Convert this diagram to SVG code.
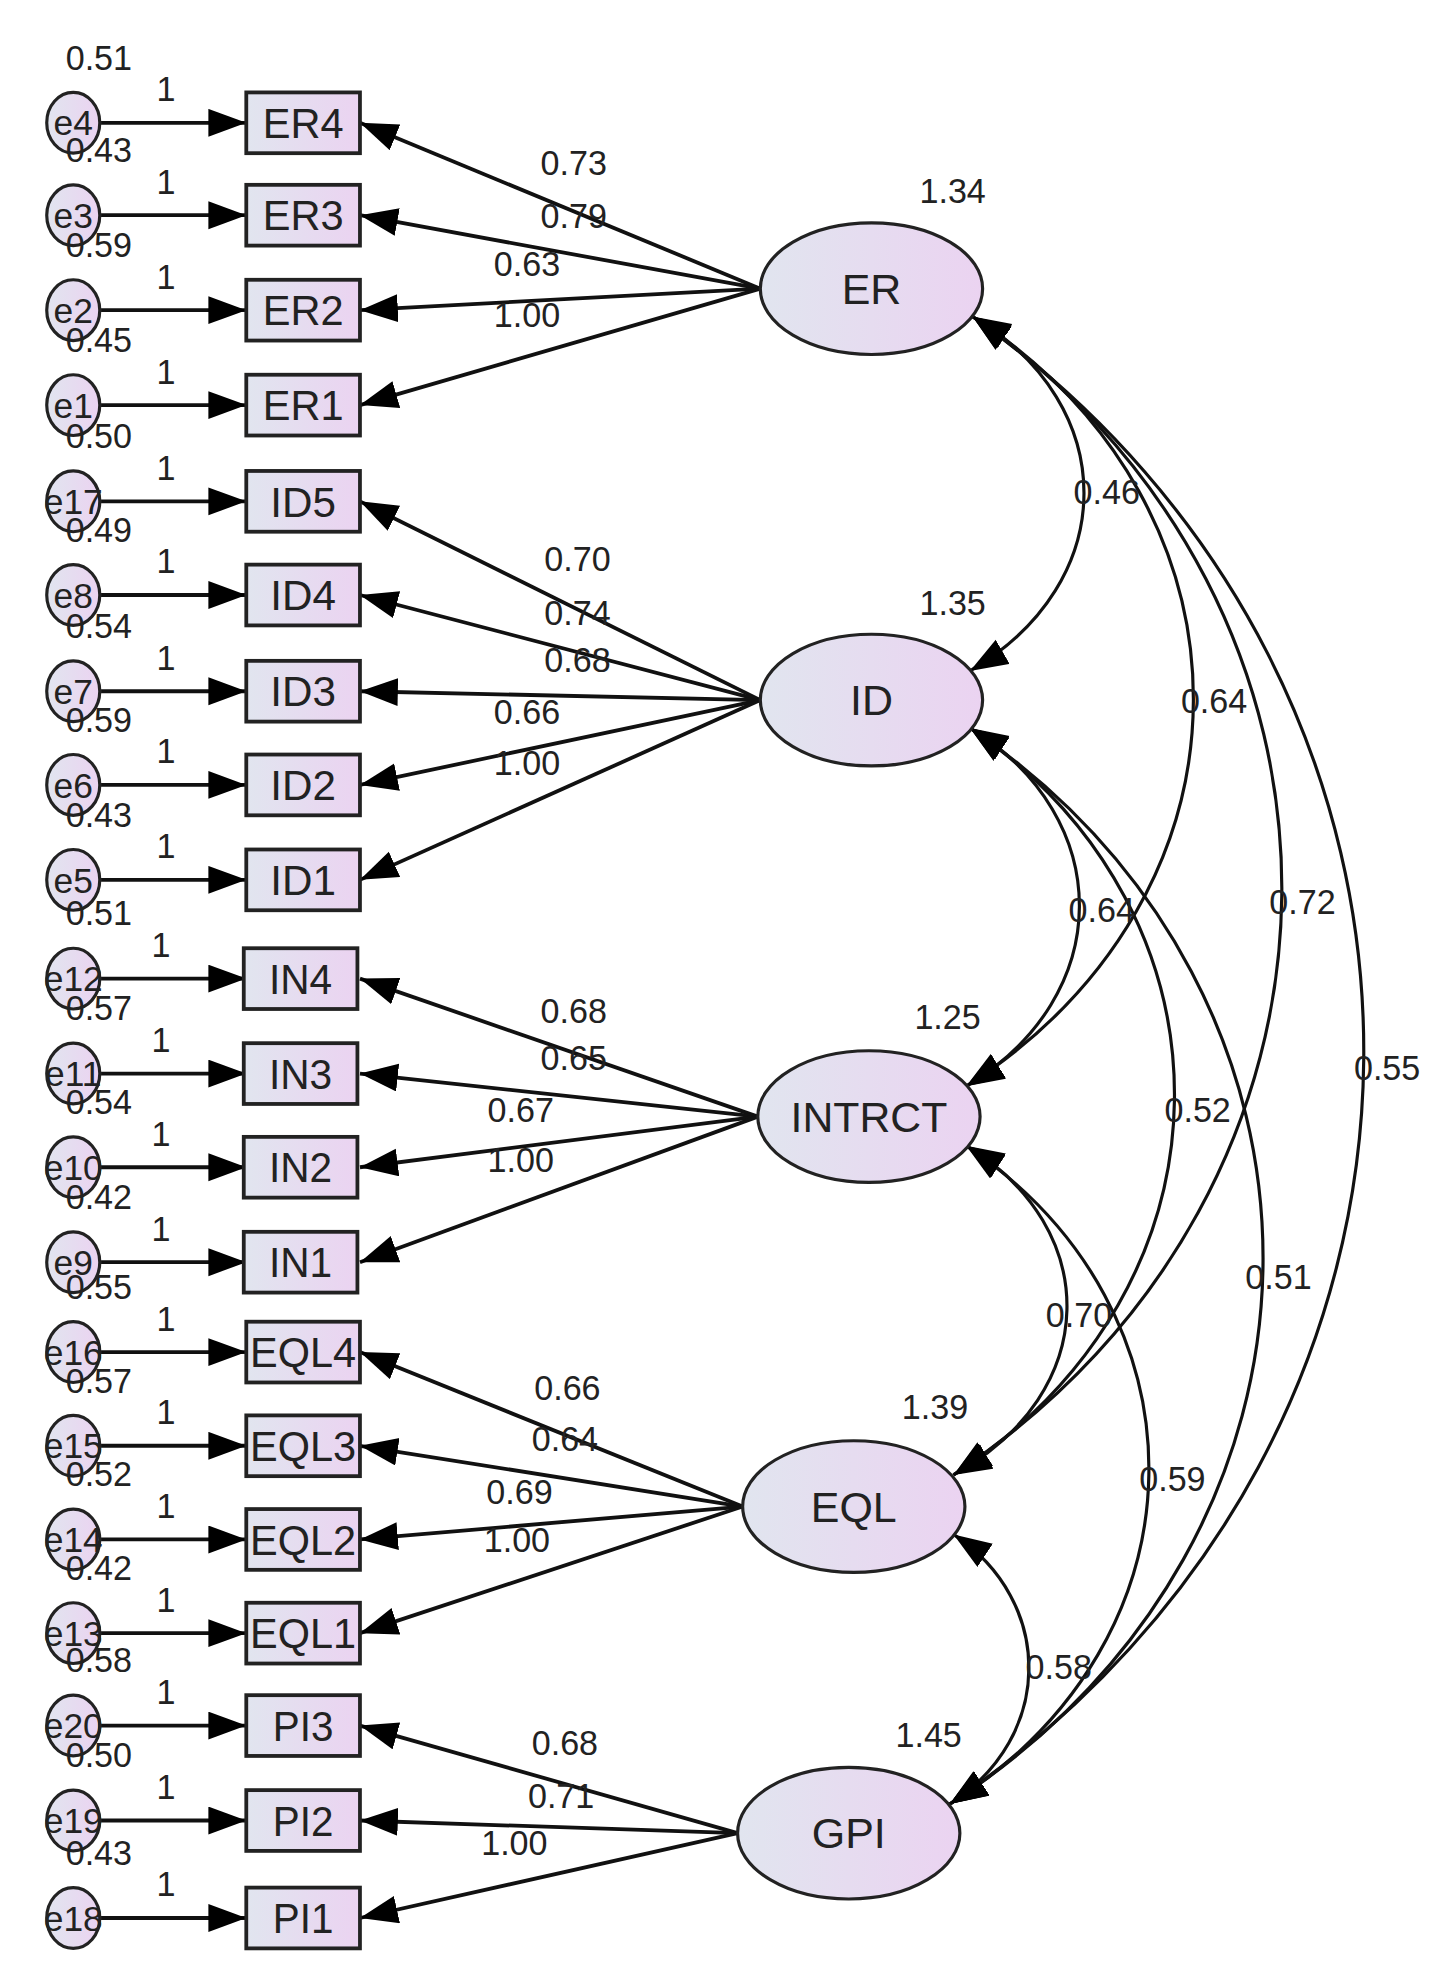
<svg xmlns="http://www.w3.org/2000/svg" width="1452" height="1980" viewBox="0 0 1452 1980">
<style>
.t{font-family:"Liberation Sans",Arial,sans-serif;fill:#222}
.n{font-size:27px}
.b{font-size:34px;text-anchor:middle}
.e{font-size:28px;text-anchor:middle}
.ln{stroke:#111;stroke-width:3;fill:none}
.cv{stroke:#111;stroke-width:2.5;fill:none;marker-start:url(#ah);marker-end:url(#ah)}
.box{fill:url(#g);stroke:#222;stroke-width:3}
.ell{fill:url(#g);stroke:#222;stroke-width:2.5}
</style>
<defs>
<linearGradient id="g" x1="0" y1="0" x2="1" y2="0"><stop offset="0" stop-color="#e1e5ef"/><stop offset="1" stop-color="#ebd3f1"/></linearGradient>
<marker id="ah" markerUnits="userSpaceOnUse" markerWidth="32" markerHeight="24" refX="30" refY="11" orient="auto-start-reverse"><path d="M0,0 L30,11 L0,22 z" fill="#000"/></marker>
</defs>
<rect width="1452" height="1980" fill="#fff"/>
<g transform="scale(1.263,1.266)">
<g id="connectors">
<g class="ln" marker-end="url(#ah)">
<line x1="80" y1="97" x2="195" y2="97"/><line x1="80" y1="170" x2="195" y2="170"/><line x1="80" y1="245" x2="195" y2="245"/><line x1="80" y1="320" x2="195" y2="320"/>
<line x1="80" y1="396" x2="195" y2="396"/><line x1="80" y1="470" x2="195" y2="470"/><line x1="80" y1="546" x2="195" y2="546"/><line x1="80" y1="620" x2="195" y2="620"/><line x1="80" y1="695" x2="195" y2="695"/>
<line x1="80" y1="773" x2="195" y2="773"/><line x1="80" y1="848" x2="195" y2="848"/><line x1="80" y1="922" x2="195" y2="922"/><line x1="80" y1="997" x2="195" y2="997"/>
<line x1="80" y1="1068" x2="195" y2="1068"/><line x1="80" y1="1142" x2="195" y2="1142"/><line x1="80" y1="1216" x2="195" y2="1216"/><line x1="80" y1="1290" x2="195" y2="1290"/>
<line x1="80" y1="1363" x2="195" y2="1363"/><line x1="80" y1="1438" x2="195" y2="1438"/><line x1="80" y1="1515" x2="195" y2="1515"/>
<line x1="602" y1="228" x2="285" y2="97"/><line x1="602" y1="228" x2="285" y2="170"/><line x1="602" y1="228" x2="285" y2="245"/><line x1="602" y1="228" x2="285" y2="320"/>
<line x1="602" y1="553" x2="285" y2="396"/><line x1="602" y1="553" x2="285" y2="470"/><line x1="602" y1="553" x2="285" y2="546"/><line x1="602" y1="553" x2="285" y2="620"/><line x1="602" y1="553" x2="285" y2="695"/>
<line x1="600" y1="882" x2="285" y2="773"/><line x1="600" y1="882" x2="285" y2="848"/><line x1="600" y1="882" x2="285" y2="922"/><line x1="600" y1="882" x2="285" y2="997"/>
<line x1="588" y1="1190" x2="285" y2="1068"/><line x1="588" y1="1190" x2="285" y2="1142"/><line x1="588" y1="1190" x2="285" y2="1216"/><line x1="588" y1="1190" x2="285" y2="1290"/>
<line x1="584" y1="1448" x2="285" y2="1363"/><line x1="584" y1="1448" x2="285" y2="1438"/><line x1="584" y1="1448" x2="285" y2="1515"/>
</g>
<path class="cv" d="M770,250 C888,320 888,460 768,530"/>
<path class="cv" d="M770,250 C1004,402 1004,706 765,858"/>
<path class="cv" d="M770,250 C1099,479 1099,936 755,1165"/>
<path class="cv" d="M770,250 C1186,544 1186,1131 752,1425"/>
<path class="cv" d="M768,575 C884,646 884,787 765,858"/>
<path class="cv" d="M768,575 C986,722 986,1017 755,1165"/>
<path class="cv" d="M768,575 C1080,787 1080,1212 752,1425"/>
<path class="cv" d="M765,905 C873,970 873,1100 755,1165"/>
<path class="cv" d="M765,905 C960,1035 960,1295 752,1425"/>
<path class="cv" d="M755,1212 C835,1265 835,1372 752,1425"/>
</g>
<g id="errors">
<g class="ell"><ellipse cx="58" cy="97" rx="21" ry="24"/><ellipse cx="58" cy="170" rx="21" ry="24"/><ellipse cx="58" cy="245" rx="21" ry="24"/><ellipse cx="58" cy="320" rx="21" ry="24"/><ellipse cx="58" cy="396" rx="21" ry="24"/><ellipse cx="58" cy="470" rx="21" ry="24"/><ellipse cx="58" cy="546" rx="21" ry="24"/><ellipse cx="58" cy="620" rx="21" ry="24"/><ellipse cx="58" cy="695" rx="21" ry="24"/><ellipse cx="58" cy="773" rx="21" ry="24"/><ellipse cx="58" cy="848" rx="21" ry="24"/><ellipse cx="58" cy="922" rx="21" ry="24"/><ellipse cx="58" cy="997" rx="21" ry="24"/><ellipse cx="58" cy="1068" rx="21" ry="24"/><ellipse cx="58" cy="1142" rx="21" ry="24"/><ellipse cx="58" cy="1216" rx="21" ry="24"/><ellipse cx="58" cy="1290" rx="21" ry="24"/><ellipse cx="58" cy="1363" rx="21" ry="24"/><ellipse cx="58" cy="1438" rx="21" ry="24"/><ellipse cx="58" cy="1515" rx="21" ry="24"/></g>
<g class="t e">
<text x="58" y="107">e4</text><text x="58" y="180">e3</text><text x="58" y="255">e2</text><text x="58" y="330">e1</text><text x="58" y="406">e17</text><text x="58" y="480">e8</text><text x="58" y="556">e7</text><text x="58" y="630">e6</text><text x="58" y="705">e5</text><text x="58" y="783">e12</text><text x="58" y="858">e11</text><text x="58" y="932">e10</text><text x="58" y="1007">e9</text><text x="58" y="1078">e16</text><text x="58" y="1152">e15</text><text x="58" y="1226">e14</text><text x="58" y="1300">e13</text><text x="58" y="1373">e20</text><text x="58" y="1448">e19</text><text x="58" y="1525">e18</text>
</g>
<g class="t n">
<text x="52" y="55">0.51</text><text x="52" y="128">0.43</text><text x="52" y="203">0.59</text><text x="52" y="278">0.45</text><text x="52" y="354">0.50</text><text x="52" y="428">0.49</text><text x="52" y="504">0.54</text><text x="52" y="578">0.59</text><text x="52" y="653">0.43</text><text x="52" y="731">0.51</text><text x="52" y="806">0.57</text><text x="52" y="880">0.54</text><text x="52" y="955">0.42</text><text x="52" y="1026">0.55</text><text x="52" y="1100">0.57</text><text x="52" y="1174">0.52</text><text x="52" y="1248">0.42</text><text x="52" y="1321">0.58</text><text x="52" y="1396">0.50</text><text x="52" y="1473">0.43</text>
<text x="124" y="80">1</text><text x="124" y="153">1</text><text x="124" y="228">1</text><text x="124" y="303">1</text><text x="124" y="379">1</text><text x="124" y="453">1</text><text x="124" y="529">1</text><text x="124" y="603">1</text><text x="124" y="678">1</text><text x="120" y="756">1</text><text x="120" y="831">1</text><text x="120" y="905">1</text><text x="120" y="980">1</text><text x="124" y="1051">1</text><text x="124" y="1125">1</text><text x="124" y="1199">1</text><text x="124" y="1273">1</text><text x="124" y="1346">1</text><text x="124" y="1421">1</text><text x="124" y="1498">1</text>
</g>
</g>
<g id="indicators">
<g class="box"><rect x="195" y="73" width="90" height="48"/><rect x="195" y="146" width="90" height="48"/><rect x="195" y="221" width="90" height="48"/><rect x="195" y="296" width="90" height="48"/><rect x="195" y="372" width="90" height="48"/><rect x="195" y="446" width="90" height="48"/><rect x="195" y="522" width="90" height="48"/><rect x="195" y="596" width="90" height="48"/><rect x="195" y="671" width="90" height="48"/><rect x="193" y="749" width="90" height="48"/><rect x="193" y="824" width="90" height="48"/><rect x="193" y="898" width="90" height="48"/><rect x="193" y="973" width="90" height="48"/><rect x="195" y="1044" width="90" height="48"/><rect x="195" y="1118" width="90" height="48"/><rect x="195" y="1192" width="90" height="48"/><rect x="195" y="1266" width="90" height="48"/><rect x="195" y="1339" width="90" height="48"/><rect x="195" y="1414" width="90" height="48"/><rect x="195" y="1491" width="90" height="48"/></g>
<g class="t b">
<text x="240" y="109" textLength="64" lengthAdjust="spacingAndGlyphs">ER4</text><text x="240" y="182" textLength="64" lengthAdjust="spacingAndGlyphs">ER3</text><text x="240" y="257" textLength="64" lengthAdjust="spacingAndGlyphs">ER2</text><text x="240" y="332" textLength="64" lengthAdjust="spacingAndGlyphs">ER1</text>
<text x="240" y="408" textLength="52" lengthAdjust="spacingAndGlyphs">ID5</text><text x="240" y="482" textLength="52" lengthAdjust="spacingAndGlyphs">ID4</text><text x="240" y="558" textLength="52" lengthAdjust="spacingAndGlyphs">ID3</text><text x="240" y="632" textLength="52" lengthAdjust="spacingAndGlyphs">ID2</text><text x="240" y="707" textLength="52" lengthAdjust="spacingAndGlyphs">ID1</text>
<text x="238" y="785" textLength="50" lengthAdjust="spacingAndGlyphs">IN4</text><text x="238" y="860" textLength="50" lengthAdjust="spacingAndGlyphs">IN3</text><text x="238" y="934" textLength="50" lengthAdjust="spacingAndGlyphs">IN2</text><text x="238" y="1009" textLength="50" lengthAdjust="spacingAndGlyphs">IN1</text>
<text x="240" y="1080" textLength="84" lengthAdjust="spacingAndGlyphs">EQL4</text><text x="240" y="1154" textLength="84" lengthAdjust="spacingAndGlyphs">EQL3</text><text x="240" y="1228" textLength="84" lengthAdjust="spacingAndGlyphs">EQL2</text><text x="240" y="1302" textLength="84" lengthAdjust="spacingAndGlyphs">EQL1</text>
<text x="240" y="1375" textLength="48" lengthAdjust="spacingAndGlyphs">PI3</text><text x="240" y="1450" textLength="48" lengthAdjust="spacingAndGlyphs">PI2</text><text x="240" y="1527" textLength="48" lengthAdjust="spacingAndGlyphs">PI1</text>
</g>
</g>
<g id="ER"><ellipse class="ell" cx="690" cy="228" rx="88" ry="52"/><text class="t b" x="690" y="240">ER</text><text class="t n" x="728" y="160">1.34</text></g>
<g id="ID"><ellipse class="ell" cx="690" cy="553" rx="88" ry="52"/><text class="t b" x="690" y="565">ID</text><text class="t n" x="728" y="486">1.35</text></g>
<g id="INTRCT"><ellipse class="ell" cx="688" cy="882" rx="88" ry="52"/><text class="t b" x="688" y="894" textLength="124" lengthAdjust="spacingAndGlyphs">INTRCT</text><text class="t n" x="724" y="813">1.25</text></g>
<g id="EQL"><ellipse class="ell" cx="676" cy="1190" rx="88" ry="52"/><text class="t b" x="676" y="1202">EQL</text><text class="t n" x="714" y="1121">1.39</text></g>
<g id="GPI"><ellipse class="ell" cx="672" cy="1448" rx="88" ry="52"/><text class="t b" x="672" y="1460">GPI</text><text class="t n" x="709" y="1380">1.45</text></g>
<g id="loadings" class="t n">
<text x="428" y="138">0.73</text><text x="428" y="180">0.79</text><text x="391" y="218">0.63</text><text x="391" y="258">1.00</text>
<text x="431" y="451">0.70</text><text x="431" y="494">0.74</text><text x="431" y="531">0.68</text><text x="391" y="572">0.66</text><text x="391" y="612">1.00</text>
<text x="428" y="808">0.68</text><text x="428" y="845">0.65</text><text x="386" y="886">0.67</text><text x="386" y="926">1.00</text>
<text x="423" y="1106">0.66</text><text x="421" y="1146">0.64</text><text x="385" y="1188">0.69</text><text x="383" y="1226">1.00</text>
<text x="421" y="1386">0.68</text><text x="418" y="1428">0.71</text><text x="381" y="1465">1.00</text>
</g>
<g id="covlabels" class="t n">
<text x="850" y="398">0.46</text><text x="935" y="563">0.64</text><text x="1005" y="722">0.72</text><text x="1072" y="853">0.55</text><text x="846" y="728">0.64</text><text x="922" y="886">0.52</text><text x="986" y="1018">0.51</text><text x="828" y="1048">0.70</text><text x="902" y="1178">0.59</text><text x="812" y="1326">0.58</text>
</g>
</g>
</svg>
